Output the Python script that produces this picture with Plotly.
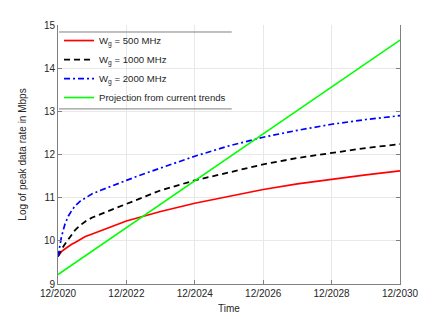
import plotly.graph_objects as go

# Years since 12/2020
x_ticks = [0, 2, 4, 6, 8, 10]
x_ticktext = ["12/2020", "12/2022", "12/2024", "12/2026", "12/2028", "12/2030"]

t_curve = [0, 0.05, 0.1, 0.2, 0.3, 0.4, 0.5, 0.65, 0.8, 1.0, 1.25, 1.5, 2.0, 2.5, 3.0,
           4.0, 5.0, 6.0, 7.0, 8.0, 9.0, 10.0]
v_red = [9.64, 9.70, 9.75, 9.81, 9.87, 9.92, 9.96, 10.04, 10.10, 10.16, 10.23, 10.31, 10.46,
         10.57, 10.68, 10.87, 11.03, 11.19, 11.32, 11.43, 11.53, 11.62]
v_black = [9.64, 9.72, 9.80, 9.92, 10.03, 10.14, 10.25, 10.36, 10.45, 10.54, 10.62, 10.70,
           10.85, 11.02, 11.17, 11.40, 11.58, 11.77, 11.92, 12.04, 12.15, 12.24]
v_blue = [9.63, 9.92, 10.09, 10.38, 10.57, 10.70, 10.81, 10.92, 11.00, 11.09, 11.17, 11.25,
          11.40, 11.55, 11.69, 11.96, 12.20, 12.40, 12.56, 12.70, 12.81, 12.90]

t_green = [0, 10]
v_green = [9.22, 14.65]

names = ["W<sub>g</sub> = 500 MHz", "W<sub>g</sub> = 1000 MHz", "W<sub>g</sub> = 2000 MHz",
         "Projection from current trends"]

FONT = "Liberation Sans, Arial, sans-serif"
TXT = "#262626"

fig = go.Figure()
fig.add_trace(go.Scatter(x=t_curve, y=v_red, mode="lines", name=names[0],
                         line=dict(color="#ff0000", width=1.7)))
fig.add_trace(go.Scatter(x=t_curve, y=v_black, mode="lines", name=names[1],
                         line=dict(color="#000000", width=1.8, dash="6px,4px")))
fig.add_trace(go.Scatter(x=t_curve, y=v_blue, mode="lines", name=names[2],
                         line=dict(color="#0000ff", width=1.7, dash="6px,3px,2px,3px")))
fig.add_trace(go.Scatter(x=t_green, y=v_green, mode="lines", name=names[3],
                         line=dict(color="#00ff00", width=1.6)))

axis_common = dict(showline=True, linecolor="#808080", linewidth=1,
                   ticks="inside", ticklen=4, tickcolor="#808080",
                   showgrid=True, gridcolor="#e8e8e8", gridwidth=1,
                   zeroline=False, automargin=False,
                   tickfont=dict(family=FONT, size=10, color=TXT))

LEG_X0, LEG_X1, LEG_Y0, LEG_Y1 = 0.003, 0.508, 0.676, 0.973

fig.update_layout(
    width=443, height=319,
    # page body has an 8px default margin; compensate so the plot area sits at 58..400 x 25..284
    margin=dict(l=50, r=51, t=17, b=43, autoexpand=False),
    paper_bgcolor="white", plot_bgcolor="white",
    font=dict(family=FONT, size=10, color=TXT),
    xaxis=dict(range=[0, 10], tickvals=x_ticks, ticktext=x_ticktext,
               title=dict(text="Time", font=dict(family=FONT, size=10, color=TXT), standoff=6),
               **axis_common),
    yaxis=dict(range=[9, 15], dtick=1, mirror="ticks",
               title=dict(text="Log of peak data rate in Mbps", font=dict(family=FONT, size=10, color=TXT), standoff=15),
               **axis_common),
    legend=dict(x=LEG_X0, y=0.996, xanchor="left", yanchor="top",
                bgcolor="rgba(0,0,0,0)", borderwidth=0,
                font=dict(family=FONT, size=9.6, color=TXT)),
    showlegend=True,
    shapes=[
        dict(type="rect", xref="paper", yref="paper", x0=LEG_X0, x1=LEG_X1, y0=LEG_Y0, y1=LEG_Y1,
             fillcolor="white", line=dict(width=0), layer="between"),
        dict(type="line", xref="paper", yref="paper", x0=LEG_X0, x1=LEG_X1, y0=LEG_Y1, y1=LEG_Y1,
             line=dict(color="#808080", width=1), layer="above"),
        dict(type="line", xref="paper", yref="paper", x0=LEG_X0, x1=LEG_X1, y0=LEG_Y0, y1=LEG_Y0,
             line=dict(color="#808080", width=1), layer="above"),
    ],
)

fig.write_html("out.html")
